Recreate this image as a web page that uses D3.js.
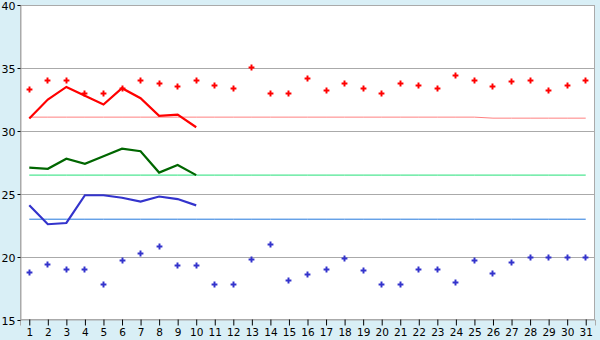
<!DOCTYPE html>
<html>
<head>
<meta charset="utf-8">
<script src="https://cdn.jsdelivr.net/npm/d3@7"></script>
<style>
	body { margin: 0; background: #d9eff6; }
	svg { display: block; }
	text { font-family: "DejaVu Sans", Verdana, sans-serif; fill: #000; }
</style>
</head>
<body>
<svg id="chart" width="600" height="340"></svg>
<script>
var days = d3.range(1, 32);
var yTicks = [15, 20, 25, 30, 35, 40];

// daily highs / lows (points)
var highPts = [33.3, 34.0, 34.0, 33.0, 33.0, 33.4, 34.0, 33.8, 33.55, 34.0,
	33.6, 33.4, 35.0, 33.0, 33.0, 34.2, 33.2, 33.8, 33.4, 33.0,
	33.8, 33.6, 33.4, 34.4, 34.0, 33.55, 33.9, 34.0, 33.2, 33.6, 34.0];
var lowPts = [18.8, 19.4, 19.0, 19.0, 17.8, 19.7, 20.3, 20.85, 19.3, 19.3,
	17.8, 17.8, 19.8, 21.0, 18.15, 18.6, 19.0, 19.9, 18.9, 17.8,
	17.8, 19.0, 19.0, 18.0, 19.7, 18.7, 19.6, 20.0, 20.0, 20.0, 20.0];

// lines for the first 10 days
var redLine = [31.0, 32.5, 33.5, 32.8, 32.1, 33.4, 32.6, 31.2, 31.3, 30.3];
var greenLine = [27.1, 27.0, 27.8, 27.4, 28.0, 28.6, 28.4, 26.7, 27.3, 26.5];
var blueLine = [24.1, 22.6, 22.7, 24.9, 24.9, 24.7, 24.4, 24.8, 24.6, 24.1];

// reference levels
var redRef = [31.1, 31.1, 31.1, 31.1, 31.1, 31.1, 31.1, 31.1, 31.1, 31.1,
	31.1, 31.1, 31.1, 31.1, 31.1, 31.1, 31.1, 31.1, 31.1, 31.1,
	31.1, 31.1, 31.1, 31.1, 31.1, 31.02, 31.02, 31.02, 31.02, 31.02, 31.02];
var greenRef = days.map(function() { return 26.5; });
var blueRef = days.map(function() { return 23.0; });

var svg = d3.select("#chart"),
	margin = {top: 5, right: 5, bottom: 20, left: 20},
	width = +svg.attr("width") - margin.left - margin.right,
	height = +svg.attr("height") - margin.top - margin.bottom;

var x = d3.scalePoint().domain(days).range([0, width]).padding(0.5),
	y = d3.scaleLinear().domain([15, 40]).range([height, 0]);

var g = svg.append("g")
	.attr("transform", "translate(" + margin.left + "," + margin.top + ")");

g.append("rect")
	.attr("width", width)
	.attr("height", height)
	.attr("fill", "#fff");

// gridlines
g.selectAll(".grid")
	.data(yTicks.slice(1, -1))
	.enter().append("line")
	.attr("x1", 0).attr("x2", width)
	.attr("y1", function(d) { return Math.round(y(d)) + 0.5; })
	.attr("y2", function(d) { return Math.round(y(d)) + 0.5; })
	.attr("stroke", "#aaa");

g.append("rect")
	.attr("x", 0.5).attr("y", 0.5)
	.attr("width", width - 1)
	.attr("height", height - 1)
	.attr("fill", "none")
	.attr("stroke", "#aaa");

var xAxis = g.append("g")
	.attr("transform", "translate(0," + (height - 0.5) + ")")
	.call(d3.axisBottom(x).tickSize(6).tickPadding(3));
var yAxis = g.append("g")
	.attr("transform", "translate(0.5,0)")
	.call(d3.axisLeft(y).tickValues(yTicks).tickSize(3).tickPadding(2));

xAxis.select(".domain").attr("stroke", "#aaa");
yAxis.select(".domain").attr("stroke", "#aaa");
xAxis.selectAll(".tick line").attr("stroke", "#000");
yAxis.selectAll(".tick line").attr("stroke", "#000");
xAxis.selectAll("text").style("font-size", "10.5px");
yAxis.selectAll("text").style("font-size", "11px").attr("dy", "0.42em");

function drawLine(vals, color, w) {
	var line = d3.line()
		.x(function(d, i) { return x(days[i]); })
		.y(function(d) { return y(d); });
	g.append("path")
		.datum(vals)
		.attr("d", line)
		.attr("fill", "none")
		.attr("stroke", color)
		.attr("stroke-width", w);
}

drawLine(redRef, "#ff8080", 1);
drawLine(greenRef, "#22e077", 1);
drawLine(blueRef, "#2277dd", 1);

drawLine(redLine, "#ff0000", 2.2);
drawLine(greenLine, "#006600", 2.2);
drawLine(blueLine, "#3333cc", 2.2);

var cross = d3.symbol().type(d3.symbolCross).size(19);

function drawPoints(vals, color) {
	g.selectAll(null)
		.data(vals)
		.enter().append("path")
		.attr("d", cross)
		.attr("transform", function(d, i) {
			return "translate(" + (Math.floor(x(days[i])) + 0.5) + "," + (Math.floor(y(d)) + 0.5) + ")";
		})
		.attr("fill", color);
}

drawPoints(highPts, "#ff0000");
drawPoints(lowPts, "#3333cc");
</script>
</body>
</html>
